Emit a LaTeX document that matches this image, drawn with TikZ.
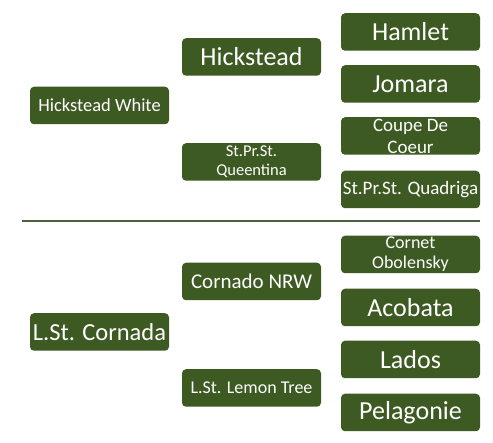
\documentclass[tikz,border=0pt]{standalone}
\usepackage{fontspec}
\setmainfont{Carlito}
\definecolor{horsegreen}{HTML}{3D5A23}
\definecolor{rulegreen}{HTML}{4E6140}
\newcommand{\fs}[2]{\fontsize{#1}{#2}\selectfont}

\begin{document}
\begin{tikzpicture}[x=1pt,y=-1pt,every node/.style = {fill=horsegreen, text=white, align=center, shape=rectangle, rounded corners=4pt, minimum width=139pt, minimum height=37.5pt, inner sep=0pt}]
\useasboundingbox (0,0) rectangle (493,443);
% top pedigree
\node(hw) [font=\fs{18.5}{20}] at (99.5,105.5) {Hickstead White};
\node(hick) [font=\fs{26}{28}] at (251.5,57) {Hickstead};
\node(queen) [font=\fs{16.5}{19}] at (251.5,162) {St.Pr.St.\\Queentina};
\node(hamlet) [font=\fs{26}{28}] at (410.5,32) {Hamlet};
\node(jomara) [font=\fs{26}{28}] at (410.5,84) {Jomara};
\node(coupe) [font=\fs{19}{22}] at (410.5,136) {Coupe De\\Coeur};
\node(quad) [font=\fs{19}{21}] at (410.5,189.5) {St.Pr.St. Quadriga};
% separator
\coordinate (sepl) at (22,221);
\coordinate (sepr) at (480,221);
\draw[rulegreen, line width=2pt] (sepl) -- (sepr);
% bottom pedigree
\node(cornada) [font=\fs{24.5}{26}] at (99.5,332) {L.St. Cornada};
\node(nrw) [font=\fs{21}{23}] at (251.5,281.5) {Cornado NRW};
\node(lemon) [font=\fs{18}{20}] at (251.5,388) {L.St. Lemon Tree};
\node(cornet) [font=\fs{18}{20}] at (410.5,254.5) {Cornet\\Obolensky};
\node(acobata) [font=\fs{26}{28}] at (410.5,307.5) {Acobata};
\node(lados) [font=\fs{26}{28}] at (410.5,359.5) {Lados};
\node(pelagonie) [font=\fs{26}{28}] at (410.5,412.5) {Pelagonie};
\end{tikzpicture}
\end{document}
